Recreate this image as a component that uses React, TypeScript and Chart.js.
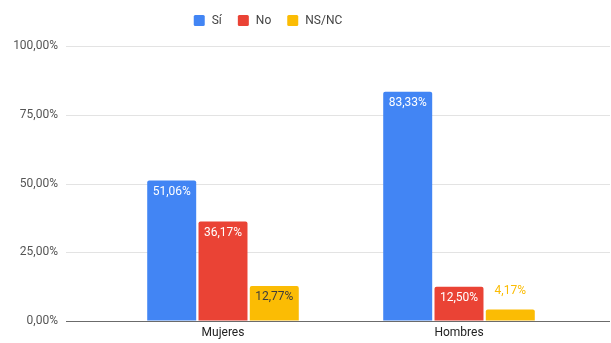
import React, { useEffect, useRef } from 'react';
import { Chart, registerables } from 'chart.js';

Chart.register(...registerables);

const categories = ['Mujeres', 'Hombres'];
const seriesNames = ['Sí', 'No', 'NS/NC'];
const siValues = [51.06, 83.33];
const noValues = [36.17, 12.5];
const nsncValues = [12.77, 4.17];
const seriesColors = ['#4285F4', '#EA4335', '#FBBC04'];
const insideLabelColors = ['#ffffff', '#ffffff', '#3c3c3c'];
const yTickValues = [0, 25, 50, 75, 100];

const FONT = 'Roboto, Arial, sans-serif';
const fmt = (v: number) => v.toFixed(2).replace('.', ',') + '%';

const gridPlugin = {
  id: 'extGrid',
  beforeDatasetsDraw(chart: any) {
    const { ctx, chartArea, scales } = chart;
    const x0 = chartArea.left - 39;
    const x1 = chart.width - 1;
    ctx.save();
    ctx.strokeStyle = '#e3e3e3';
    ctx.lineWidth = 1;
    yTickValues.forEach((v) => {
      if (v === 0) return;
      const y = Math.round(scales.y.getPixelForValue(v)) + 0.5;
      ctx.beginPath();
      ctx.moveTo(x0, y);
      ctx.lineTo(x1, y);
      ctx.stroke();
    });
    ctx.restore();
  },
  afterDatasetsDraw(chart: any) {
    const { ctx, chartArea, scales } = chart;
    const x0 = chartArea.left - 39;
    const x1 = chart.width - 1;
    ctx.save();
    ctx.strokeStyle = '#6b6b6b';
    ctx.lineWidth = 1;
    const y = Math.round(scales.y.getPixelForValue(0)) + 0.5;
    ctx.beginPath();
    ctx.moveTo(x0, y);
    ctx.lineTo(x1, y);
    ctx.stroke();

    // data labels
    ctx.font = `12px ${FONT}`;
    ctx.textAlign = 'center';
    ctx.textBaseline = 'middle';
    chart.data.datasets.forEach((ds: any, di: number) => {
      const meta = chart.getDatasetMeta(di);
      meta.data.forEach((el: any, i: number) => {
        const v = ds.data[i];
        const h = el.base - el.y;
        if (h >= 20) {
          ctx.fillStyle = insideLabelColors[di];
          ctx.fillText(fmt(v), el.x, el.y + 11.5);
        } else {
          ctx.fillStyle = seriesColors[di];
          ctx.fillText(fmt(v), el.x, el.y - 19);
        }
      });
    });

    // legend
    ctx.font = `12px ${FONT}`;
    ctx.textAlign = 'left';
    const box = 11;
    const gapBoxText = 7;
    const gapItems = 16;
    const widths = seriesNames.map((n) => ctx.measureText(n).width);
    const total = widths.reduce((a, w) => a + box + gapBoxText + w, 0) + gapItems * (seriesNames.length - 1);
    let x = 268 - total / 2;
    const ly = 20.5;
    seriesNames.forEach((n, i) => {
      ctx.fillStyle = seriesColors[i];
      ctx.beginPath();
      (ctx as any).roundRect(x, ly - box / 2, box, box, 1.5);
      ctx.fill();
      ctx.fillStyle = '#444444';
      ctx.fillText(n, x + box + gapBoxText, ly + 0.5);
      x += box + gapBoxText + widths[i] + gapItems;
    });
    ctx.restore();
  },
};

export default function App() {
  const ref = useRef<HTMLCanvasElement | null>(null);
  useEffect(() => {
    if (!ref.current) return;
    const chart = new Chart(ref.current, {
      type: 'bar',
      data: {
        labels: categories,
        datasets: [
          { label: seriesNames[0], data: siValues, backgroundColor: seriesColors[0] },
          { label: seriesNames[1], data: noValues, backgroundColor: seriesColors[1] },
          { label: seriesNames[2], data: nsncValues, backgroundColor: seriesColors[2] },
        ],
      },
      options: {
        animation: false,
        responsive: false,
        maintainAspectRatio: false,
        devicePixelRatio: 1,
        layout: { padding: { top: 46, right: 34, bottom: 0, left: 0 } },
        datasets: {
          bar: {
            categoryPercentage: 0.652,
            barPercentage: 0.955,
            borderRadius: { topLeft: 2, topRight: 2, bottomLeft: 0, bottomRight: 0 },
          },
        } as any,
        plugins: {
          legend: { display: false },
          tooltip: { enabled: false },
        },
        scales: {
          x: {
            grid: { display: false, drawTicks: false },
            border: { display: false },
            afterFit: (scale: any) => {
              scale.height = 22;
            },
            ticks: { color: '#222222', font: { family: FONT, size: 12 }, padding: 5 },
          },
          y: {
            min: 0,
            max: 100,
            grid: {
              display: true,
              drawOnChartArea: false,
              drawTicks: true,
              tickLength: 43,
              color: 'rgba(0,0,0,0)',
            },
            border: { display: false },
            afterFit: (scale: any) => {
              scale.width = 105;
            },
            ticks: {
              stepSize: 25,
              padding: 4,
              color: '#555555',
              font: { family: FONT, size: 12 },
              callback: (v: any) => fmt(Number(v)),
            },
          },
        },
      },
      plugins: [gridPlugin],
    });
    return () => chart.destroy();
  }, []);
  return (
    <div style={{ position: 'absolute', left: 0, top: 0, width: 611, height: 343, background: '#ffffff' }}>
      <canvas ref={ref} width={611} height={343} style={{ display: 'block', width: 611, height: 343 }} />
    </div>
  );
}
